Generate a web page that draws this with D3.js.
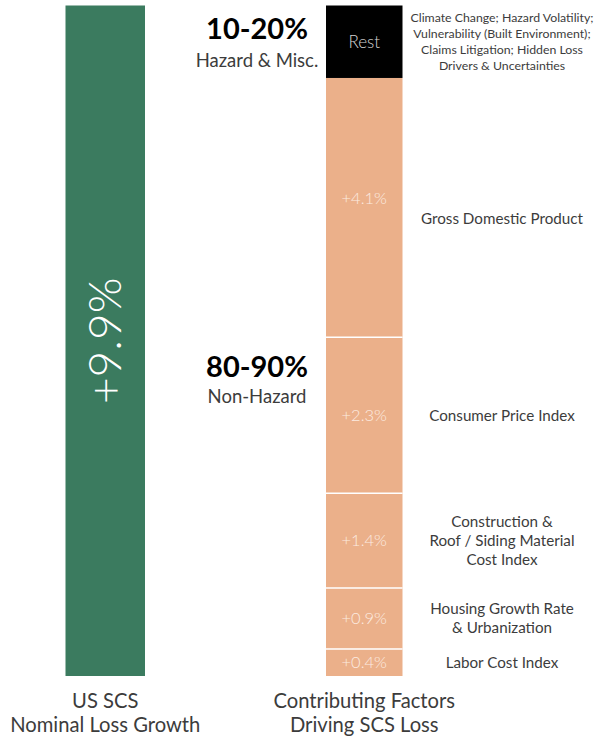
<!DOCTYPE html>
<meta charset="utf-8">
<head>
<style>
  body { margin: 0; background: #fff; }
  text { font-family: Lato, "Open Sans", sans-serif; }
</style>
</head>
<body>
<div id="content"></div>
<script src="https://d3js.org/d3.v7.min.js"></script>
<script>

// total nominal loss growth
var totalGrowth = 9.9;

// contributing factors, bottom to top
var factorNames = ["Labor Cost Index", "Housing Growth Rate\n& Urbanization",
  "Construction &\nRoof / Siding Material\nCost Index", "Consumer Price Index",
  "Gross Domestic Product",
  "Climate Change; Hazard Volatility;\nVulnerability (Built Environment);\nClaims Litigation; Hidden Loss\nDrivers & Uncertainties"];
var factorValues = [0.4, 0.9, 1.4, 2.3, 4.1, null];
var factorTags = ["+0.4%", "+0.9%", "+1.4%", "+2.3%", "+4.1%", "Rest"];
// block heights as drawn (in % points); the GDP block is partly hidden behind "Rest"
var blockHeights = [0.4, 0.9, 1.4, 2.3, 3.83, 1.07];

var groupTitles = ["10-20%", "80-90%"];
var groupNames = ["Hazard & Misc.", "Non-Hazard"];
var axisLabels = [["US SCS", "Nominal Loss Growth"], ["Contributing Factors", "Driving SCS Loss"]];

var width = 595, height = 738;
var green = "#3b7b5f", peach = "#ebb08a", ink = "#3c3c3c";

var svg = d3.select("#content").append("svg")
    .attr("width", width)
    .attr("height", height);

var y = d3.scaleLinear().domain([0, totalGrowth]).range([676, 5.5]);

var leftX = 65.5, leftW = 79.5;
var rightX = 326, rightW = 76.5;

// green bar
svg.append("rect")
    .attr("x", leftX).attr("width", leftW)
    .attr("y", y(totalGrowth)).attr("height", y(0) - y(totalGrowth))
    .attr("fill", green);

svg.append("text")
    .attr("transform", "translate(" + (leftX + leftW / 2 + 16) + "," + ((y(0) + y(totalGrowth)) / 2) + ") rotate(-90)")
    .attr("text-anchor", "middle")
    .style("font-size", "46px")
    .style("font-weight", 300)
    .attr("fill", "#fff")
    .text("+" + totalGrowth + "%");

// stack
var cum = 0;
var blocks = blockHeights.map(function(h, i) {
  var b = {start: cum, end: cum + h, i: i};
  cum += h;
  return b;
});

var seg = svg.selectAll(".seg").data(blocks).enter().append("g").attr("class", "seg");

seg.append("rect")
    .attr("x", rightX).attr("width", rightW)
    .attr("y", function(d) { return y(d.end); })
    .attr("height", function(d) { return y(d.start) - y(d.end); })
    .attr("fill", function(d) { return factorValues[d.i] == null ? "#000" : peach; });

// white separators between peach blocks
svg.selectAll(".sep").data(blocks.slice(1, 5)).enter().append("line")
    .attr("x1", rightX).attr("x2", rightX + rightW)
    .attr("y1", function(d) { return y(d.start); })
    .attr("y2", function(d) { return y(d.start); })
    .attr("stroke", "#fff").attr("stroke-width", 1.5);

seg.append("text")
    .attr("x", rightX + rightW / 2)
    .attr("y", function(d) {
      var v = factorValues[d.i];
      if (v == null) return (y(d.start) + y(d.end)) / 2;
      return y(d.start + v / 2);
    })
    .attr("dy", "0.35em")
    .attr("text-anchor", "middle")
    .style("font-size", function(d) { return factorValues[d.i] == null ? "17px" : "16.5px"; })
    .style("font-weight", 300)
    .attr("fill", function(d) { return factorValues[d.i] == null ? "#d4d4d4" : "#fcebe0"; })
    .text(function(d) { return factorTags[d.i]; });

// factor names
seg.each(function(d) {
  var lines = factorNames[d.i].split("\n");
  var isRest = factorValues[d.i] == null;
  var lh = isRest ? 16.3 : 19;
  var cy = (y(d.start) + y(d.end)) / 2 + (d.i == 4 ? 11 : 0);
  var t = d3.select(this).append("text")
      .attr("text-anchor", "middle")
      .style("font-size", isRest ? "12.3px" : "15.2px")
      .attr("fill", ink);
  lines.forEach(function(l, k) {
    t.append("tspan")
        .attr("x", 502)
        .attr("y", cy + (k - (lines.length - 1) / 2) * lh)
        .attr("dy", "0.35em")
        .text(l);
  });
});

// group headings
var headY = [[39, 67], [377, 403]];
groupTitles.forEach(function(t, i) {
  svg.append("text")
      .attr("x", 257).attr("y", headY[i][0])
      .attr("text-anchor", "middle")
      .style("font-size", "29px").style("font-weight", 700)
      .attr("fill", "#000")
      .text(t);
  svg.append("text")
      .attr("x", 257).attr("y", headY[i][1])
      .attr("text-anchor", "middle")
      .style("font-size", "18.5px")
      .attr("fill", ink)
      .text(groupNames[i]);
});

// bottom captions
var capX = [leftX + leftW / 2, rightX + rightW / 2];
axisLabels.forEach(function(lines, i) {
  lines.forEach(function(l, k) {
    svg.append("text")
        .attr("x", capX[i]).attr("y", 708 + k * 24)
        .attr("text-anchor", "middle")
        .style("font-size", "20.2px")
        .attr("fill", ink)
        .text(l);
  });
});

</script>
</body>
</html>
